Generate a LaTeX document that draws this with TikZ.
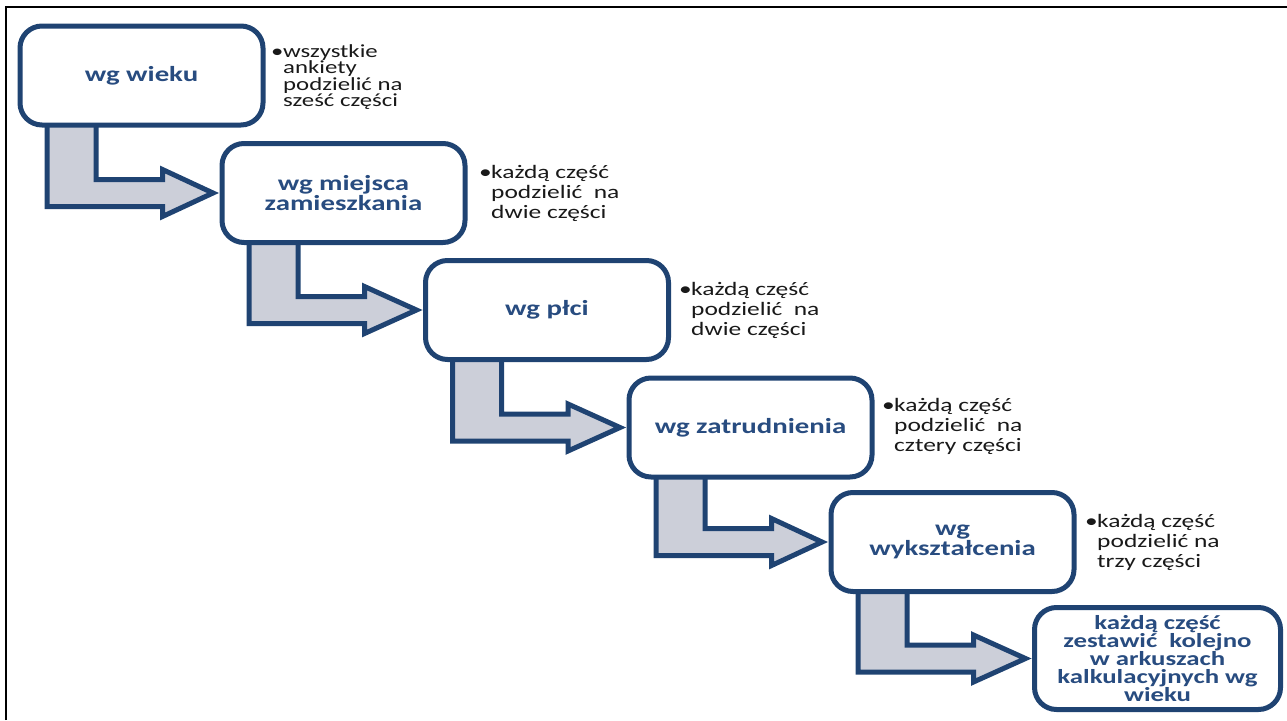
\documentclass[tikz,border=0pt]{standalone}
\usepackage{fontspec}
\setmainfont{Carlito}[FakeStretch=1.34]
\usetikzlibrary{calc}
\definecolor{boxblue}{RGB}{31,67,114}
\definecolor{txtblue}{RGB}{40,76,128}
\definecolor{arrfill}{RGB}{204,207,217}
\pgfdeclarelayer{bg}
\pgfsetlayers{bg,main}
\tikzset{
  stepbox/.style={draw=boxblue, line width=5pt, fill=white, rounded corners=22pt,
    minimum width=243pt, minimum height=99pt, inner sep=0pt, outer sep=0pt,
    align=center, text=txtblue, font=\fontsize{21.5}{20}\selectfont\bfseries},
  note/.style={anchor=north west, inner sep=0pt, align=left, text=black!90,
    font=\fontsize{19}{20}\selectfont},
  bentarr/.style={draw=boxblue, line width=5pt, fill=arrfill, line join=miter}
}
\newcommand\bul{\makebox[12pt][l]{•}}
\newcommand\ind{\hspace*{12pt}}
\newcommand\bendarrow[2]{%
  \draw[bentarr] let \p1=(#1.south west), \p2=(#2.west) in
   (\x1+27pt,\y1+12pt) -- (\x1+27pt,\y2-13.5pt) -- (\x1+142.5pt,\y2-13.5pt)
   -- (\x1+142.5pt,\y2-23.5pt) -- (\x2-9pt,\y2) -- (\x1+142.5pt,\y2+23.5pt)
   -- (\x1+142.5pt,\y2+13.5pt) -- (\x1+76pt,\y2+13.5pt) -- (\x1+76pt,\y1+12pt) -- cycle;}
\begin{document}
\begin{tikzpicture}[x=1pt,y=-1pt]
\useasboundingbox (0,0) rectangle (1287,720);
\draw[line width=2pt, black] (5.5,720) -- (5.5,7) -- (1287,7);
\node[stepbox] (b1) at (141.5,75.5) {wg wieku};
\node[stepbox] (b2) at (343.5,193) {wg miejsca\\zamieszkania};
\node[stepbox] (b3) at (547,310) {wg płci};
\node[stepbox] (b4) at (750.5,427.5) {wg zatrudnienia};
\node[stepbox] (b5) at (952.5,542) {wg\\wykształcenia};
\node[stepbox, minimum width=246pt, minimum height=102pt,
      font=\fontsize{20}{17.8}\selectfont\bfseries] (b6) at (1157.5,658.5)
  {każdą część\\zestawić~ kolejno\\w arkuszach\\kalkulacyjnych wg\\wieku};
\node[note, font=\fontsize{18.5}{16.5}\selectfont] (t1) at (271,44)
  {\bul wszystkie\\\ind ankiety\\\ind podzielić na\\\ind sześć części};
\node[note] (t2) at (479,165) {\bul każdą część\\\ind podzielić~ na\\\ind dwie części};
\node[note] (t3) at (679,282) {\bul każdą część\\\ind podzielić~ na\\\ind dwie części};
\node[note] (t4) at (882,398) {\bul każdą część\\\ind podzielić~ na\\\ind cztery części};
\node[note] (t5) at (1085,514) {\bul każdą część\\\ind podzielić na\\\ind trzy części};
\begin{pgfonlayer}{bg}
\bendarrow{b1}{b2}
\bendarrow{b2}{b3}
\bendarrow{b3}{b4}
\bendarrow{b4}{b5}
\bendarrow{b5}{b6}
\end{pgfonlayer}
\end{tikzpicture}
\end{document}
